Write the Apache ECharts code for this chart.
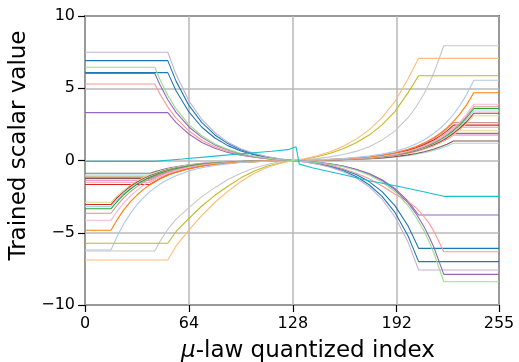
<!DOCTYPE html>
<html><head><meta charset="utf-8">
<script src="https://cdn.jsdelivr.net/npm/echarts@6/dist/echarts.min.js"></script>
<style>html,body{margin:0;padding:0;background:#fff}#c{width:519px;height:362px}</style>
</head><body><div id="c"></div>
<script>
// tick labels
const xTicks = [0, 64, 128, 192, 255];
const yTicks = [-10, -5, 0, 5, 10];

// x positions (quantized index) at which values were read
const xA51 = [0, 51, 56, 64, 72, 80, 88, 96, 104, 112, 120, 128, 135, 143, 151, 159, 167, 175, 183, 191, 199, 205.5, 255];
const xA43 = [0, 43, 46, 51, 56, 64, 72, 80, 88, 96, 104, 112, 120, 128, 135, 143, 151, 159, 167, 175, 183, 191, 199, 204, 209, 212, 215, 221, 255];
const xB16 = [0, 16, 20, 24, 28, 32, 36, 40, 46, 51, 56, 64, 72, 80, 96, 112, 128, 143, 159, 175, 183, 191, 199, 204, 209, 215, 219, 223, 227, 231, 235, 239.5, 255];
const xB40 = [0, 40, 43, 46, 51, 56, 64, 72, 80, 96, 112, 128, 143, 159, 175, 183, 191, 199, 204, 209, 215, 219, 223, 227, 255];
const xCyan = [0, 43, 60, 80, 100, 115, 125, 130, 131, 132, 140, 160, 175, 192, 210, 221, 255];

// trained scalar values
const lavender = [7.49, 7.49, 5.98, 4.13, 2.84, 1.92, 1.27, 0.82, 0.50, 0.27, 0.11, 0, -0.10, -0.25, -0.47, -0.77, -1.21, -1.82, -2.68, -3.91, -5.65, -7.58, -7.58];
const blue1 = [6.91, 6.91, 5.51, 3.81, 2.62, 1.77, 1.17, 0.75, 0.46, 0.25, 0.10, 0, -0.09, -0.23, -0.43, -0.71, -1.11, -1.68, -2.48, -3.61, -5.22, -7.0, -7.0];
const blue2 = [6.08, 6.08, 4.85, 3.36, 2.30, 1.56, 1.03, 0.66, 0.40, 0.22, 0.09, 0, -0.08, -0.20, -0.38, -0.62, -0.97, -1.46, -2.15, -3.14, -4.53, -6.08, -6.08];
const purple1 = [3.31, 3.31, 2.64, 1.83, 1.25, 0.85, 0.56, 0.36, 0.22, 0.12, 0.05, 0, -0.05, -0.13, -0.23, -0.38, -0.60, -0.90, -1.33, -1.95, -2.81, -3.77, -3.77];
const lightOrange = [-6.89, -6.89, -5.93, -4.82, -3.79, -2.89, -2.14, -1.45, -0.90, -0.48, -0.21, 0, 0.11, 0.32, 0.60, 0.99, 1.48, 2.12, 2.97, 4.10, 5.66, 7.07, 7.07];
const olive = [-5.73, -5.73, -4.93, -4.01, -3.15, -2.41, -1.78, -1.20, -0.74, -0.40, -0.17, 0, 0.09, 0.26, 0.50, 0.82, 1.23, 1.76, 2.47, 3.40, 4.70, 5.87, 5.87];

const green1 = [6.45, 6.45, 5.64, 4.50, 3.59, 2.48, 1.71, 1.15, 0.77, 0.49, 0.30, 0.16, 0.06, 0, -0.06, -0.14, -0.26, -0.43, -0.67, -1.01, -1.49, -2.16, -3.13, -3.93, -4.92, -5.63, -6.44, -8.39, -8.39];
const purple2 = [6.02, 6.02, 5.27, 4.20, 3.35, 2.32, 1.60, 1.08, 0.72, 0.46, 0.28, 0.15, 0.06, 0, -0.05, -0.13, -0.24, -0.40, -0.63, -0.95, -1.39, -2.03, -2.94, -3.69, -4.62, -5.29, -6.04, -7.88, -7.88];
const salmon = [5.29, 5.29, 4.63, 3.69, 2.95, 2.04, 1.40, 0.95, 0.63, 0.40, 0.24, 0.13, 0.05, 0, -0.05, -0.16, -0.32, -0.57, -0.88, -1.26, -1.77, -2.33, -2.84, -3.28, -3.91, -4.35, -4.92, -6.31, -6.31];
const silver = [-6.26, -6.26, -5.63, -4.76, -4.07, -3.26, -2.50, -1.88, -1.31, -0.88, -0.53, -0.28, -0.09, 0, 0.05, 0.13, 0.25, 0.41, 0.63, 0.95, 1.41, 2.05, 2.96, 3.72, 4.65, 5.33, 6.09, 7.94, 7.94];

const skyBlue = [-6.19, -6.19, -5.20, -4.36, -3.66, -3.06, -2.57, -2.15, -1.65, -1.31, -1.05, -0.72, -0.50, -0.34, -0.14, -0.05, 0, 0.04, 0.13, 0.30, 0.44, 0.63, 0.92, 1.15, 1.44, 1.89, 2.25, 2.69, 3.20, 3.82, 4.56, 5.55, 5.55];
const orange = [-4.83, -4.83, -4.06, -3.40, -2.85, -2.39, -2.00, -1.68, -1.28, -1.02, -0.82, -0.57, -0.39, -0.26, -0.11, -0.04, 0, 0.03, 0.11, 0.25, 0.37, 0.53, 0.77, 0.97, 1.22, 1.59, 1.90, 2.27, 2.71, 3.23, 3.85, 4.69, 4.69];
const pink1 = [-4.14, -4.14, -3.48, -2.91, -2.45, -2.05, -1.72, -1.44, -1.10, -0.88, -0.70, -0.48, -0.33, -0.23, -0.10, -0.03, 0, 0.03, 0.09, 0.21, 0.31, 0.44, 0.64, 0.81, 1.01, 1.32, 1.58, 1.88, 2.24, 2.68, 3.19, 3.89, 3.89];
const tan1 = [-3.65, -3.65, -3.07, -2.57, -2.16, -1.81, -1.51, -1.27, -0.97, -0.77, -0.62, -0.43, -0.29, -0.20, -0.08, -0.03, 0, 0.03, 0.08, 0.20, 0.29, 0.42, 0.61, 0.77, 0.97, 1.26, 1.51, 1.80, 2.15, 2.56, 3.05, 3.72, 3.72];
const green2 = [-3.34, -3.34, -2.81, -2.35, -1.97, -1.65, -1.38, -1.16, -0.89, -0.71, -0.56, -0.39, -0.27, -0.18, -0.08, -0.03, 0, 0.03, 0.08, 0.19, 0.28, 0.41, 0.59, 0.75, 0.94, 1.22, 1.46, 1.74, 2.08, 2.48, 2.96, 3.60, 3.60];
const paleCyan1 = [-3.18, -3.18, -2.67, -2.24, -1.88, -1.57, -1.32, -1.10, -0.85, -0.67, -0.54, -0.37, -0.26, -0.17, -0.07, -0.02, 0, 0.03, 0.08, 0.18, 0.27, 0.39, 0.57, 0.71, 0.89, 1.17, 1.39, 1.66, 1.98, 2.36, 2.82, 3.43, 3.43];
const red1 = [-3.05, -3.05, -2.56, -2.15, -1.80, -1.51, -1.26, -1.06, -0.81, -0.65, -0.52, -0.36, -0.25, -0.17, -0.07, -0.02, 0, 0.02, 0.07, 0.17, 0.26, 0.37, 0.54, 0.68, 0.85, 1.11, 1.32, 1.58, 1.89, 2.25, 2.68, 3.27, 3.27];
const khaki1 = [-2.89, -2.89, -2.43, -2.03, -1.71, -1.43, -1.20, -1.00, -0.77, -0.61, -0.49, -0.34, -0.23, -0.16, -0.07, -0.02, 0, 0.02, 0.07, 0.16, 0.24, 0.35, 0.51, 0.64, 0.81, 1.05, 1.26, 1.50, 1.79, 2.14, 2.55, 3.10, 3.10];

const gray1 = [-0.88, -0.88, -0.77, -0.67, -0.54, -0.43, -0.30, -0.20, -0.14, -0.06, -0.02, 0, 0.02, 0.07, 0.17, 0.26, 0.37, 0.54, 0.67, 0.85, 1.11, 1.32, 1.58, 1.88, 1.88];
const paleCyan2 = [-1.0, -1.0, -0.88, -0.77, -0.61, -0.49, -0.34, -0.23, -0.16, -0.07, -0.02, 0, 0.02, 0.05, 0.11, 0.16, 0.24, 0.34, 0.43, 0.54, 0.70, 0.84, 1.00, 1.19, 1.19];
const khaki2 = [-1.08, -1.08, -0.95, -0.83, -0.66, -0.53, -0.36, -0.25, -0.17, -0.07, -0.02, 0, 0.03, 0.08, 0.19, 0.28, 0.41, 0.59, 0.74, 0.93, 1.21, 1.45, 1.73, 2.06, 2.06];
const tan2 = [-1.15, -1.15, -1.01, -0.88, -0.70, -0.56, -0.39, -0.27, -0.18, -0.08, -0.03, 0, 0.03, 0.10, 0.24, 0.36, 0.52, 0.75, 0.94, 1.18, 1.54, 1.84, 2.20, 2.62, 2.62];
const brown = [-1.24, -1.24, -1.09, -0.95, -0.76, -0.60, -0.42, -0.29, -0.19, -0.08, -0.03, 0, 0.02, 0.05, 0.12, 0.18, 0.27, 0.39, 0.48, 0.61, 0.79, 0.95, 1.13, 1.35, 1.35];
const pink2 = [-1.37, -1.37, -1.20, -1.05, -0.84, -0.67, -0.46, -0.32, -0.22, -0.09, -0.03, 0, 0.02, 0.07, 0.16, 0.24, 0.35, 0.50, 0.63, 0.79, 1.03, 1.24, 1.47, 1.76, 1.76];
const salmon2 = [-1.5, -1.5, -1.31, -1.15, -0.92, -0.73, -0.51, -0.35, -0.24, -0.10, -0.03, 0, 0.03, 0.09, 0.21, 0.31, 0.46, 0.66, 0.83, 1.04, 1.35, 1.61, 1.93, 2.30, 2.30];
const red2 = [-1.66, -1.66, -1.45, -1.27, -1.01, -0.81, -0.56, -0.38, -0.26, -0.11, -0.04, 0, 0.03, 0.10, 0.23, 0.33, 0.49, 0.70, 0.88, 1.10, 1.44, 1.72, 2.05, 2.45, 2.45];

const cyan = [-0.06, -0.06, 0.1, 0.3, 0.5, 0.64, 0.75, 0.95, 1.0, -0.25, -0.5, -1.0, -1.4, -1.77, -2.2, -2.48, -2.48];

const lineDefs = [
  [xB40, gray1, '#7f7f7f'], [xB40, paleCyan2, '#9edae5'], [xB40, khaki2, '#dbdb8d'], [xB40, tan2, '#c49c94'],
  [xB40, brown, '#8c564b'], [xB40, pink2, '#e377c2'], [xB40, salmon2, '#ff9896'], [xB40, red2, '#d62728'],
  [xB16, khaki1, '#dbdb8d'], [xB16, red1, '#d62728'], [xB16, paleCyan1, '#9edae5'], [xB16, green2, '#2ca02c'],
  [xB16, tan1, '#c49c94'], [xB16, pink1, '#f7b6d2'], [xB16, orange, '#ff7f0e'], [xB16, skyBlue, '#aec7e8'],
  [xA43, silver, '#c7c7c7'], [xA51, olive, '#bcbd22'], [xA51, lightOrange, '#ffbb78'],
  [xA51, purple1, '#9467bd'], [xA51, blue2, '#1f77b4'], [xA51, blue1, '#1f77b4'], [xA51, lavender, '#c5b0d5'],
  [xA43, salmon, '#ff9896'], [xA43, purple2, '#9467bd'], [xA43, green1, '#98df8a'],
  [xCyan, cyan, '#17becf']
];

const series = lineDefs.map(([xs, ys, color]) => ({
  type: 'line',
  data: xs.map((x, i) => [x, ys[i]]),
  showSymbol: false,
  symbol: 'none',
  lineStyle: { width: 1.1, color: color },
  itemStyle: { color: color },
  emphasis: { disabled: true },
  silent: true
}));

const font = 'DejaVu Sans';
const minus = v => (v < 0 ? '\u2212' + Math.abs(v) : String(v));
const chart = echarts.init(document.getElementById('c'), null, { renderer: 'canvas' });
chart.setOption({
  animation: false,
  backgroundColor: '#fff',
  grid: { left: 85, right: 20, top: 16, bottom: 57, outerBoundsMode: 'none', containLabel: false,
    show: true, borderColor: '#000', borderWidth: 1.5, backgroundColor: 'transparent' },
  xAxis: {
    type: 'value', min: 0, max: 255, interval: 64, position: 'bottom',
    name: '{i|μ}-law quantized index', nameLocation: 'middle', nameGap: 35,
    nameTextStyle: { fontFamily: font, fontSize: 23, color: '#000', padding: [0, 0, 0, 32],
      rich: { i: { fontFamily: font, fontStyle: 'italic', fontSize: 23, color: '#000' } } },
    axisLine: { show: false, onZero: false },
    axisTick: { show: true, length: 7, inside: false, lineStyle: { color: '#000', width: 1.2 }, customValues: xTicks },
    axisLabel: { fontFamily: font, fontSize: 16, color: '#000', margin: 11, customValues: xTicks },
    splitLine: { show: true, lineStyle: { color: '#b8b8b8', width: 1.5 } }
  },
  yAxis: {
    type: 'value', min: -10, max: 10, interval: 5, position: 'left',
    name: 'Trained scalar value', nameLocation: 'middle', nameGap: 46,
    nameTextStyle: { fontFamily: font, fontSize: 23, color: '#000', padding: [0, 0, 0, 30] },
    axisLine: { show: false, onZero: false },
    axisTick: { show: true, length: 7, inside: false, lineStyle: { color: '#000', width: 1.2 } },
    axisLabel: { fontFamily: font, fontSize: 16, color: '#000', margin: 10, customValues: yTicks, formatter: minus },
    splitLine: { show: true, lineStyle: { color: '#b8b8b8', width: 1.5 } }
  },
  series: series
});
</script>
</body></html>
